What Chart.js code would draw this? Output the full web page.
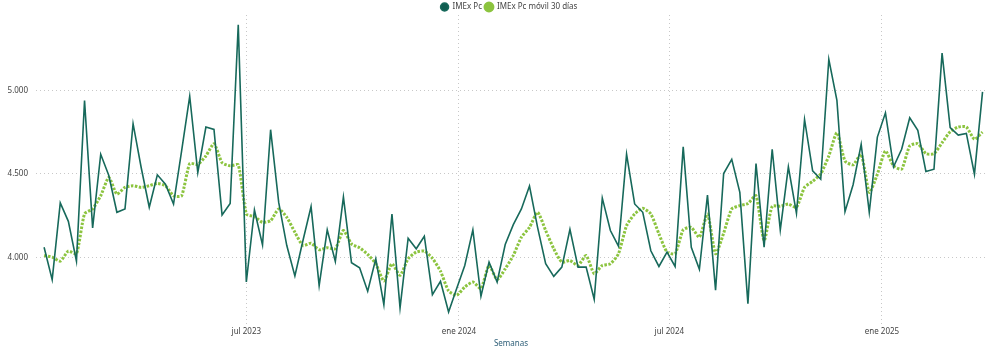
<!DOCTYPE html>
<html>
<head>
<meta charset="utf-8">
<script src="https://cdn.jsdelivr.net/npm/chart.js@4/dist/chart.umd.min.js"></script>
<style>
  html, body { margin: 0; padding: 0; background: #fff; }
  #wrap { width: 1000px; height: 346px; }
</style>
</head>
<body>
<div id="wrap"><canvas id="imexChart"></canvas></div>
<script>
// Datos semanales
const inicioSemanas = Date.UTC(2023, 0, 7);
const DIA = 24 * 3600 * 1000;

const imexPc = [
    4061, 3867, 4326, 4216, 3978, 4939, 4177, 4617, 4490, 4270,
    4290, 4800, 4538, 4300, 4494, 4438, 4319, 4637, 4964, 4508,
    4780, 4766, 4254, 4323, 5391, 3853, 4284, 4075, 4764, 4329,
    4071, 3889, 4101, 4304, 3831, 4165, 3976, 4361, 3968, 3938,
    3798, 3992, 3718, 4260, 3698, 4115, 4052, 4127, 3778, 3857,
    3674, 3814, 3952, 4165, 3768, 3972, 3853, 4077, 4196, 4290,
    4427, 4180, 3962, 3887, 3942, 4168, 3942, 3942, 3750, 4355,
    4161, 4067, 4617, 4320, 4270, 4040, 3946, 4032, 3946, 4661,
    4061, 3929, 4373, 3804, 4502, 4587, 4389, 3724, 4561, 4061,
    4647, 4165, 4542, 4264, 4825, 4518, 4468, 5185, 4939, 4274,
    4435, 4677, 4270, 4720, 4865, 4542, 4647, 4835, 4760, 4514,
    4528, 5222, 4776, 4732, 4742, 4498, 4990
];

const imexMovil = [
    4012, 4002, 3978, 4038, 4022, 4260, 4290, 4369, 4478, 4379,
    4419, 4429, 4419, 4429, 4443, 4429, 4369, 4369, 4561, 4557,
    4607, 4680, 4567, 4548, 4554, 4260, 4244, 4210, 4220, 4290,
    4240, 4151, 4071, 4085, 4046, 4058, 4052, 4161, 4081, 4058,
    4018, 3962, 3859, 3962, 3893, 3992, 4032, 4038, 3995, 3918,
    3800, 3774, 3823, 3853, 3814, 3952, 3867, 3932, 4012, 4121,
    4180, 4270, 4161, 4052, 3972, 3982, 3952, 4012, 3903, 3952,
    3962, 4022, 4190, 4260, 4294, 4260, 4141, 4032, 4022, 4165,
    4180, 4121, 4260, 4022, 4145, 4290, 4310, 4323, 4369, 4101,
    4306, 4306, 4319, 4300, 4419, 4455, 4500, 4607, 4746, 4577,
    4554, 4617, 4389, 4498, 4637, 4548, 4528, 4667, 4680, 4621,
    4621, 4686, 4752, 4780, 4780, 4707, 4750
];

const semanas = imexPc.map((_, i) => inicioSemanas + i * 7 * DIA);

const xTicks = [Date.UTC(2023, 6, 1), Date.UTC(2024, 0, 1), Date.UTC(2024, 6, 1), Date.UTC(2025, 0, 1)];
const xTickLabels = ['jul 2023', 'ene 2024', 'jul 2024', 'ene 2025'];
const yTicks = [4000, 4500, 5000];
const yTickLabels = ['4.000', '4.500', '5.000'];

const fuente = "'Noto Sans', sans-serif";

// leyenda mas pegada al grafico y algo desplazada a la derecha
const ajusteLeyenda = {
    id: 'ajusteLeyenda',
    beforeInit(chart) {
        const fitOriginal = chart.legend.fit;
        chart.legend.fit = function () {
            fitOriginal.bind(chart.legend)();
            this.height -= 6;
        };
    },
    afterLayout(chart) {
        chart.legend.left += 16;
        chart.legend.right += 16;
    },
};

document.addEventListener('DOMContentLoaded', () => {
    new Chart(document.getElementById('imexChart'), {
        type: 'line',
        data: {
            datasets: [
                {
                    label: 'IMEx Pc',
                    data: semanas.map((x, i) => ({x: x, y: imexPc[i]})),
                    borderColor: '#17695b',
                    backgroundColor: '#0f5c50',
                    borderWidth: 1.6,
                    pointRadius: 0,
                    tension: 0,
                },
                {
                    label: 'IMEx Pc móvil 30 días',
                    data: semanas.map((x, i) => ({x: x, y: imexMovil[i]})),
                    borderColor: '#8cc43f',
                    backgroundColor: '#8cc43f',
                    borderWidth: 3,
                    borderDash: [2.5, 1.5],
                    pointRadius: 0,
                    tension: 0.2,
                },
            ],
        },
        plugins: [ajusteLeyenda],
        options: {
            responsive: true,
            maintainAspectRatio: false,
            animation: false,
            layout: {padding: {top: 0, right: 14, bottom: 0, left: 0}},
            plugins: {
                tooltip: {enabled: false},
                legend: {
                    position: 'top',
                    labels: {
                        usePointStyle: true,
                        pointStyle: 'circle',
                        boxWidth: 8,
                        boxHeight: 5.6,
                        padding: 3,
                        color: '#444',
                        font: {family: fuente, size: 8},
                    },
                },
            },
            scales: {
                x: {
                    type: 'linear',
                    min: Date.UTC(2022, 11, 31),
                    max: Date.UTC(2025, 3, 1),
                    afterBuildTicks: (scale) => {
                        scale.ticks = xTicks.map(v => ({value: v}));
                    },
                    ticks: {
                        autoSkip: false,
                        maxRotation: 0,
                        padding: 2,
                        color: '#444',
                        font: {family: fuente, size: 8},
                        callback: (value, index) => xTickLabels[index],
                    },
                    grid: {
                        color: '#c8c8c8',
                        lineWidth: 1,
                        drawTicks: true,
                        tickLength: 6,
                        tickColor: '#c8c8c8',
                        tickBorderDash: [1, 3],
                    },
                    border: {display: false, dash: [1, 3]},
                    title: {
                        display: true,
                        text: 'Semanas',
                        color: '#2e5f78',
                        padding: {top: 1, bottom: -3},
                        font: {family: fuente, size: 8},
                    },
                },
                y: {
                    min: 3633,
                    max: 5450,
                    afterBuildTicks: (scale) => {
                        scale.ticks = yTicks.map(v => ({value: v}));
                    },
                    afterFit: (scale) => {
                        scale.width = 36;
                    },
                    ticks: {
                        padding: 8,
                        color: '#444',
                        font: {family: fuente, size: 8},
                        callback: (value, index) => yTickLabels[index],
                    },
                    grid: {color: '#c8c8c8', lineWidth: 1, drawTicks: false},
                    border: {display: false, dash: [1, 3]},
                },
            },
        },
    });
});
</script>
</body>
</html>
